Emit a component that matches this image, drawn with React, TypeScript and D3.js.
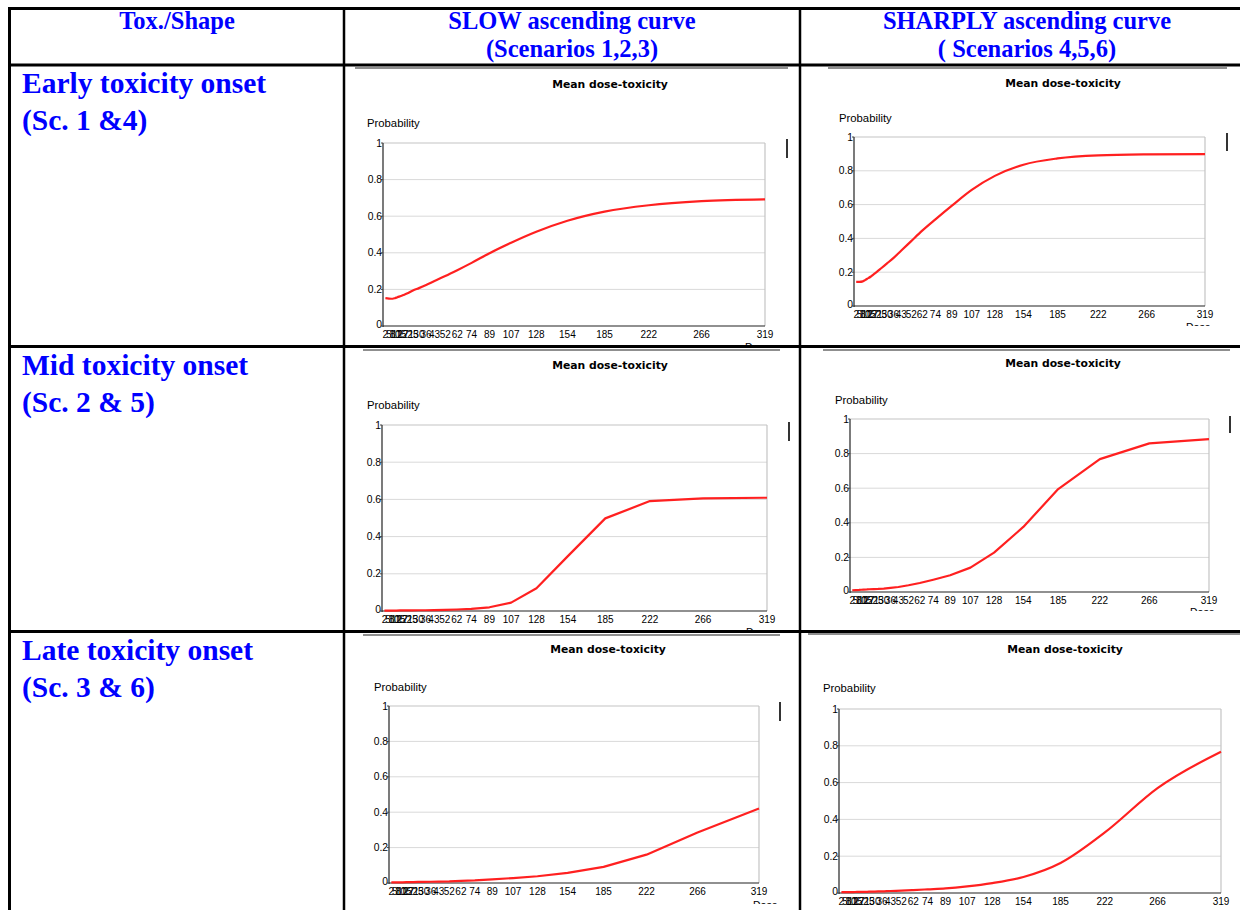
import React from "react";
import * as d3 from "d3";

// ---------- data ----------
const DOSES = [2, 5, 8, 10, 12, 15, 17, 21, 25, 30, 36, 43, 52, 62, 74, 89, 107, 128, 154, 185, 222, 266, 319];
const Y_TICKS = [0, 0.2, 0.4, 0.6, 0.8, 1];
const Y_TICK_LABELS = ["0", "0.2", "0.4", "0.6", "0.8", "1"];

const SC1_SLOW_EARLY = [0.152, 0.15, 0.149, 0.152, 0.157, 0.164, 0.169, 0.18, 0.194, 0.207, 0.224, 0.246, 0.273, 0.305, 0.345, 0.398, 0.455, 0.515, 0.575, 0.625, 0.66, 0.682, 0.692];
const SC4_SHARP_EARLY = [0.143, 0.143, 0.146, 0.153, 0.161, 0.173, 0.183, 0.203, 0.225, 0.252, 0.285, 0.328, 0.384, 0.446, 0.513, 0.594, 0.687, 0.77, 0.836, 0.873, 0.891, 0.897, 0.899];
const SC2_SLOW_MID = [0.002, 0.002, 0.002, 0.002, 0.002, 0.003, 0.003, 0.003, 0.003, 0.004, 0.004, 0.005, 0.006, 0.008, 0.011, 0.02, 0.045, 0.122, 0.295, 0.498, 0.591, 0.606, 0.609];
const SC5_SHARP_MID = [0.01, 0.011, 0.012, 0.013, 0.014, 0.015, 0.016, 0.017, 0.018, 0.02, 0.024, 0.029, 0.039, 0.052, 0.071, 0.097, 0.141, 0.228, 0.376, 0.595, 0.768, 0.859, 0.884];
const SC3_SLOW_LATE = [0.004, 0.004, 0.004, 0.004, 0.004, 0.005, 0.005, 0.005, 0.006, 0.006, 0.007, 0.008, 0.009, 0.012, 0.015, 0.021, 0.028, 0.038, 0.057, 0.091, 0.16, 0.285, 0.421];
const SC6_SHARP_LATE = [0.005, 0.005, 0.005, 0.005, 0.005, 0.006, 0.006, 0.006, 0.007, 0.008, 0.009, 0.011, 0.013, 0.016, 0.02, 0.025, 0.036, 0.054, 0.087, 0.163, 0.329, 0.57, 0.768];

const HEADER_COLS = [["Tox./Shape"], ["SLOW ascending curve", "(Scenarios 1,2,3)"], ["SHARPLY ascending curve", "( Scenarios 4,5,6)"]];
const ROW_LABELS = [["Early toxicity onset", "(Sc. 1 &4)"], ["Mid toxicity onset", "(Sc. 2 & 5)"], ["Late toxicity onset", "(Sc. 3 & 6)"]];
const CHART_TITLE = "Mean dose-toxicity";
const Y_LABEL = "Probability";
const X_LABEL = "Dose";

// ---------- layout ----------
type ChartCfg = {
  values: number[];
  smooth: boolean;
  plot: { l: number; t: number; r: number; b: number };
  title: [number, number];
  ylab: [number, number];
  bar: [number, number, number] | null;
  clip: [number, number, number, number];
  topLine: [number, number, number];
  dose: [number, number] | null;
};

const CHARTS: ChartCfg[] = [
  { values: SC1_SLOW_EARLY, smooth: true, plot: { l: 383, t: 143, r: 765, b: 326 }, title: [610, 84], ylab: [367, 123], bar: [787, 139, 158], clip: [355, 68, 435, 277], topLine: [355, 788, 68], dose: [745, 343.5] },
  { values: SC4_SHARP_EARLY, smooth: true, plot: { l: 854, t: 137, r: 1205, b: 306 }, title: [1063, 83], ylab: [839, 118], bar: [1227, 133, 151], clip: [828, 68, 400, 258], topLine: [828, 1227, 68], dose: [1186, 323.5] },
  { values: SC2_SLOW_MID, smooth: false, plot: { l: 382, t: 425, r: 767, b: 611 }, title: [610, 365], ylab: [367, 405], bar: [789, 422, 441], clip: [355, 350, 435, 280], topLine: [363, 780, 350], dose: [746, 628] },
  { values: SC5_SHARP_MID, smooth: false, plot: { l: 850, t: 419, r: 1209, b: 592 }, title: [1063, 363], ylab: [835, 400], bar: [1230, 416, 433], clip: [823, 350, 409, 261], topLine: [823, 1230, 350], dose: [1190, 608.5] },
  { values: SC3_SLOW_LATE, smooth: false, plot: { l: 389, t: 706, r: 759, b: 883 }, title: [608, 649], ylab: [374, 687], bar: [780, 702, 721], clip: [363, 635, 422, 269], topLine: [363, 780, 635], dose: [753, 901.5] },
  { values: SC6_SHARP_LATE, smooth: true, plot: { l: 839, t: 709, r: 1221, b: 893 }, title: [1065, 649], ylab: [823, 688], bar: null, clip: [805, 634, 435, 276], topLine: [808, 1240, 634], dose: null },
];

const BLUE = "#0000ff";
const SERIF = "'Liberation Serif', 'Times New Roman', serif";
const SANS = "'Liberation Sans', Arial, sans-serif";

function Chart({ cfg, idx }: { cfg: ChartCfg; idx: number }) {
  const { plot } = cfg;
  const x = d3.scaleLinear().domain([0, DOSES[DOSES.length - 1]]).range([plot.l, plot.r]);
  const y = d3.scaleLinear().domain([0, 1]).range([plot.b, plot.t]);
  const line = d3
    .line<number>()
    .x((_, i) => x(DOSES[i]))
    .y((v) => y(v))
    .curve(cfg.smooth ? d3.curveMonotoneX : d3.curveLinear);
  const [cx, cy, cw, ch] = cfg.clip;
  const clipId = `clip-${idx}`;
  return (
    <g>
      <defs>
        <clipPath id={clipId}>
          <rect x={cx} y={cy} width={cw} height={ch} />
        </clipPath>
      </defs>
      <line x1={cfg.topLine[0]} x2={cfg.topLine[1]} y1={cfg.topLine[2]} y2={cfg.topLine[2]} stroke="#6a6a6a" strokeWidth={1.6} />
      <g clipPath={`url(#${clipId})`}>
        <text x={cfg.title[0]} y={cfg.title[1]} textAnchor="middle" dominantBaseline="central" fontFamily="'DejaVu Sans', Verdana, sans-serif" fontWeight="bold" fontSize={10.8}>
          {CHART_TITLE}
        </text>
        <text x={cfg.ylab[0]} y={cfg.ylab[1]} dominantBaseline="central" fontFamily={SANS} fontSize={11.3}>
          {Y_LABEL}
        </text>
        {Y_TICKS.filter((t) => t > 0 && t < 1).map((t) => (
          <line key={t} x1={plot.l} x2={plot.r} y1={y(t)} y2={y(t)} stroke="#d9d9d9" strokeWidth={1} />
        ))}
        <line x1={plot.l} x2={plot.r} y1={plot.t} y2={plot.t} stroke="#c4c4c4" strokeWidth={1.2} />
        <line x1={plot.r} x2={plot.r} y1={plot.t} y2={plot.b} stroke="#c4c4c4" strokeWidth={1.2} />
        <line x1={plot.l} x2={plot.l} y1={plot.t} y2={plot.b + 1} stroke="#222" strokeWidth={1.2} />
        <line x1={plot.l} x2={plot.r} y1={plot.b} y2={plot.b} stroke="#222" strokeWidth={1.2} />
        {Y_TICKS.map((t, i) => (
          <g key={t}>
            <line x1={plot.l - 2} x2={plot.l} y1={y(t)} y2={y(t)} stroke="#444" strokeWidth={1} />
            <text x={plot.l - 1} y={y(t) - (t === 0 ? 2 : 0)} textAnchor="end" dominantBaseline="central" fontFamily={SANS} fontSize={10.3}>
              {Y_TICK_LABELS[i]}
            </text>
          </g>
        ))}
        {DOSES.map((d) => (
          <text key={d} x={x(d)} y={plot.b + 8} textAnchor="middle" dominantBaseline="central" fontFamily={SANS} fontSize={10}>
            {String(d)}
          </text>
        ))}
        <path d={line(cfg.values) || ""} fill="none" stroke="#ff2020" strokeWidth={2.2} strokeLinejoin="round" />
        {cfg.bar && <line x1={cfg.bar[0]} x2={cfg.bar[0]} y1={cfg.bar[1]} y2={cfg.bar[2]} stroke="#000" strokeWidth={1.6} />}
        {cfg.dose && (
          <text x={cfg.dose[0]} y={cfg.dose[1] + 7.5} fontFamily={SANS} fontSize={10.5}>
            {X_LABEL}
          </text>
        )}
      </g>
    </g>
  );
}

export default function App() {
  const W = 1240;
  const H = 910;
  const colX = [9.5, 344, 800];
  const rowY = [8.5, 65, 346.5, 631.5];
  const headerCenters = [177, 572, 1027];
  const rowBaselines = [[93, 130], [375, 412], [660, 697]];
  return (
    <svg width={W} height={H} style={{ position: "absolute", left: 0, top: 0, background: "#fff" }}>
      <rect x={0} y={0} width={W} height={H} fill="#fff" />
      {HEADER_COLS.map((lines, i) =>
        lines.map((t, j) => (
          <text key={`${i}-${j}`} x={headerCenters[i]} y={j === 0 ? 29 : 57} textAnchor="middle" fontFamily={SERIF} fontWeight="bold" fontSize={24.5} fill={BLUE}>
            {t}
          </text>
        ))
      )}
      {ROW_LABELS.map((lines, i) =>
        lines.map((t, j) => (
          <text key={`r${i}-${j}`} x={22} y={rowBaselines[i][j]} fontFamily={SERIF} fontWeight="bold" fontSize={29.5} fill={BLUE}>
            {t}
          </text>
        ))
      )}
      {CHARTS.map((c, i) => (
        <Chart key={i} cfg={c} idx={i} />
      ))}
      {rowY.map((yy, i) => (
        <line key={`h${i}`} x1={8} x2={W} y1={yy} y2={yy} stroke="#000" strokeWidth={3} />
      ))}
      {colX.map((xx, i) => (
        <line key={`v${i}`} x1={xx} x2={xx} y1={7} y2={H} stroke="#000" strokeWidth={i === 0 ? 3 : 2.5} />
      ))}
    </svg>
  );
}
